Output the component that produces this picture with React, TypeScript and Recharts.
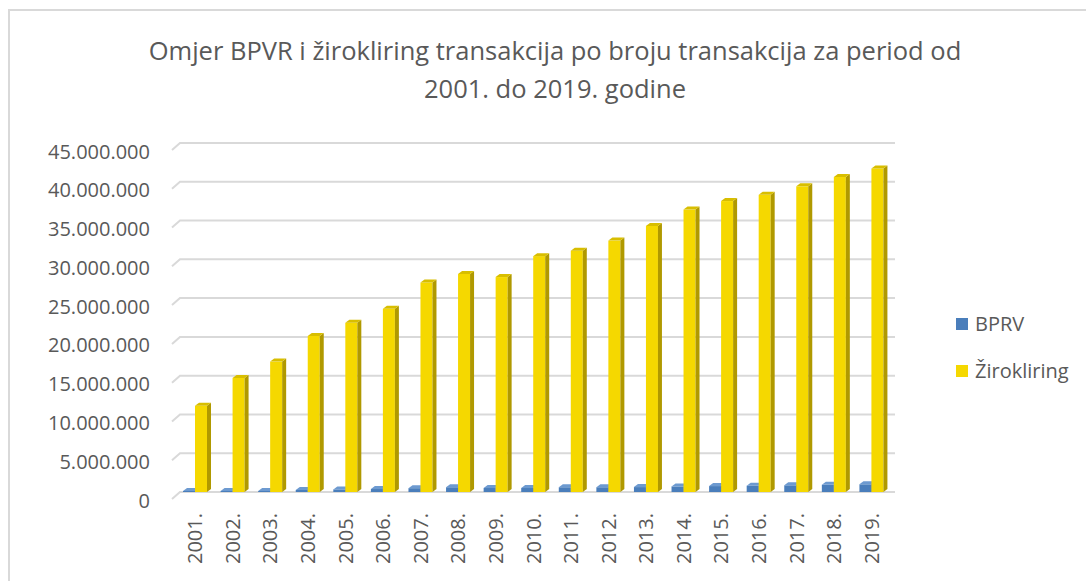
import React from "react";
import { BarChart, Bar, XAxis, YAxis, CartesianGrid, Legend } from "recharts";

const years = ["2001.", "2002.", "2003.", "2004.", "2005.", "2006.", "2007.", "2008.", "2009.", "2010.", "2011.", "2012.", "2013.", "2014.", "2015.", "2016.", "2017.", "2018.", "2019."];
const bprv = [500000, 420000, 430000, 650000, 720000, 770000, 880000, 1000000, 900000, 900000, 1000000, 1000000, 1020000, 1100000, 1150000, 1200000, 1250000, 1320000, 1380000];
const zirokliring = [11500000, 15100000, 17200000, 20500000, 22200000, 24000000, 27400000, 28500000, 28100000, 30800000, 31500000, 32800000, 34700000, 36800000, 37900000, 38700000, 39800000, 41000000, 42100000];
const yTicks = [0, 5000000, 10000000, 15000000, 20000000, 25000000, 30000000, 35000000, 40000000, 45000000];

const data = years.map((y, i) => ({ year: y, bprv: bprv[i], ziro: zirokliring[i] }));

const FONT = "'Open Sans', 'Noto Sans', sans-serif";
const GRAY = "#595959";

const fmt = (v: number) => String(v).replace(/\B(?=(\d{3})+(?!\d))/g, ".");

const make3D = (front: string, side: string, top: string) => (props: any) => {
  const { x, y, width, height } = props;
  if (height == null || width == null) return null;
  const dx = 4;
  const dy = 3;
  const base = y + height;
  const fy = Math.min(y + dy, base - 1);
  return (
    <g>
      <rect x={x} y={fy} width={width} height={base - fy} fill={front} />
      <polygon points={`${x + width},${fy} ${x + width + dx},${fy - dy} ${x + width + dx},${base - dy} ${x + width},${base}`} fill={side} />
      <polygon points={`${x},${fy} ${x + dx},${fy - dy} ${x + width + dx},${fy - dy} ${x + width},${fy}`} fill={top} />
    </g>
  );
};

const BlueShape = make3D("#4A7EBB", "#345C8C", "#6D9AD0");
const YellowShape = make3D("#F5D800", "#B09900", "#D8BE00");

const GridLine = (props: any) => {
  const { x1, y1, x2, y2 } = props;
  return (
    <path
      d={`M ${x1 - 4} ${y1 + 7} L ${x1 + 4} ${y1} L ${x2 + 5} ${y2}`}
      stroke="#d9d9d9"
      strokeWidth={2}
      fill="none"
    />
  );
};

const YTick = (props: any) => {
  const { x, y, payload } = props;
  return (
    <text x={x} y={y + 8} textAnchor="end" dominantBaseline="central" fill={GRAY} fontSize={20} fontFamily={FONT}>
      {fmt(payload.value)}
    </text>
  );
};

const XTick = (props: any) => {
  const { x, y, payload } = props;
  return (
    <text transform={`translate(${x},${y}) rotate(-90)`} textAnchor="end" dominantBaseline="central" fill={GRAY} fontSize={20} fontFamily={FONT}>
      {payload.value}
    </text>
  );
};

const LegendContent = () => (
  <div style={{ fontFamily: FONT, fontSize: 20, color: GRAY }}>
    {[
      { name: "BPRV", color: "#4A7EBB" },
      { name: "Žirokliring", color: "#F5D800" },
    ].map((it) => (
      <div key={it.name} style={{ display: "flex", alignItems: "center", height: 47 }}>
        <span style={{ display: "inline-block", width: 12, height: 12, background: it.color, marginRight: 7 }} />
        <span>{it.name}</span>
      </div>
    ))}
  </div>
);

export default function App() {
  return (
    <div style={{ position: "absolute", left: 0, top: 0, width: 1086, height: 581, background: "#fff", overflow: "hidden" }}>
      <div style={{ position: "absolute", left: 8, top: 9, width: 1078, height: 572, borderTop: "2px solid #d9d9d9", borderLeft: "2px solid #d9d9d9", boxSizing: "border-box" }} />
      <div style={{ position: "absolute", left: 0, top: 31, width: 1110, textAlign: "center", fontFamily: FONT, fontSize: 25.5, color: GRAY, lineHeight: "38px" }}>
        Omjer BPVR i žirokliring transakcija po broju transakcija za period od
        <br />
        2001. do 2019. godine
      </div>
      <div style={{ position: "absolute", left: 0, top: 0 }}>
        <BarChart width={1086} height={581} data={data} margin={{ top: 143, right: 196, bottom: 29, left: 0 }} barSize={12} barGap={0}>
          <CartesianGrid vertical={false} horizontal={GridLine as any} />
          <XAxis dataKey="year" axisLine={false} tickLine={false} tickSize={0} tickMargin={21} height={60} interval={0} tick={<XTick />} />
          <YAxis width={176} domain={[0, 45000000]} ticks={yTicks} axisLine={false} tickLine={false} tickSize={0} tickMargin={26} tick={<YTick />} interval={0} />
          <Legend layout="horizontal" align="center" verticalAlign="middle" content={<LegendContent />} wrapperStyle={{ position: "absolute", left: 956, top: 300, width: 130 }} />
          <Bar dataKey="bprv" name="BPRV" fill="#4A7EBB" shape={BlueShape} isAnimationActive={false} />
          <Bar dataKey="ziro" name="Žirokliring" fill="#F5D800" shape={YellowShape} isAnimationActive={false} />
        </BarChart>
      </div>
    </div>
  );
}
